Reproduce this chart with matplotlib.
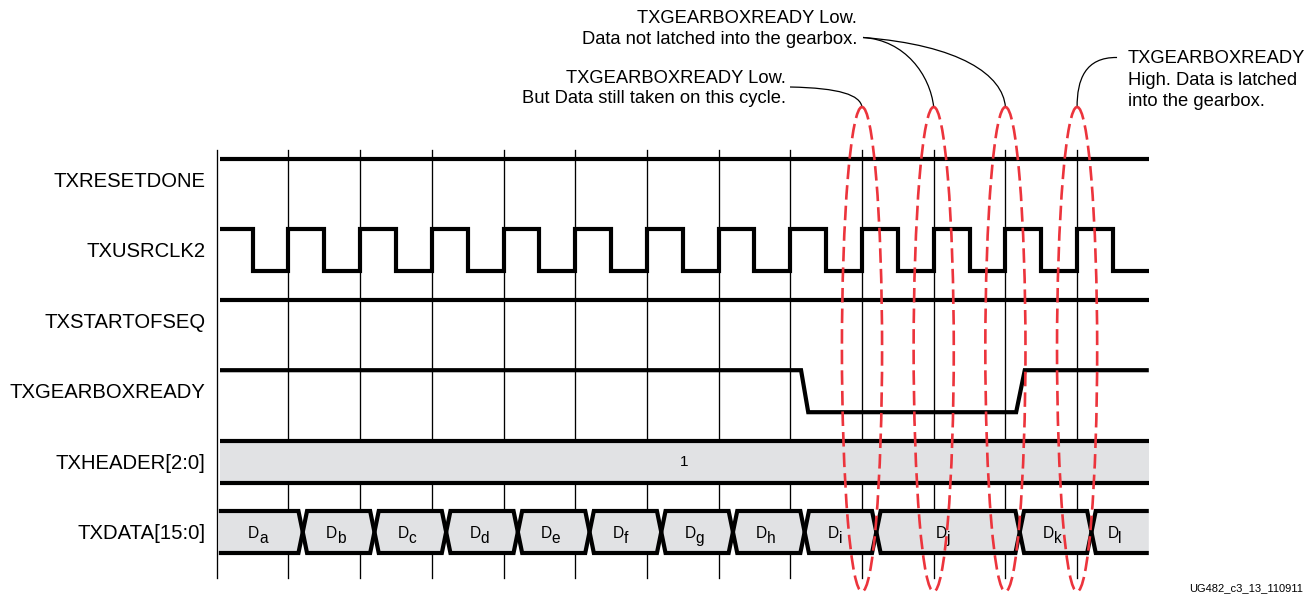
import matplotlib.pyplot as plt
from matplotlib.patches import Ellipse, Polygon, PathPatch
from matplotlib.path import Path

plt.rcParams['font.family'] = ['Liberation Sans', 'DejaVu Sans']

# --- signals ---
signal_names = ["TXRESETDONE", "TXUSRCLK2", "TXSTARTOFSEQ",
                "TXGEARBOXREADY", "TXHEADER[2:0]", "TXDATA[15:0]"]
row_y = [180.0, 250.4, 320.8, 391.2, 461.6, 532.0]
half = 21.0

grid_t = [0, 1, 2, 3, 4, 5, 6, 7, 8, 9, 10, 11, 12]
t_start = 0.046
t_end = 13.0

resetdone_level = 1
startofseq_level = 1
clk_edges = [0.5, 1.0, 1.5, 2.0, 2.5, 3.0, 3.5, 4.0, 4.5, 5.0, 5.5, 6.0, 6.5,
             7.0, 7.5, 8.0, 8.5, 9.0, 9.5, 10.0, 10.5, 11.0, 11.5, 12.0, 12.5]
gbr_t = [t_start, 8.15, 8.25, 11.15, 11.27, t_end]
gbr_v = [1, 1, 0, 0, 1, 1]
header_value = "1"
data_edges = [0.03, 1.2, 2.2, 3.2, 4.2, 5.2, 6.2, 7.2, 8.2, 9.2, 11.2, 12.2, t_end]
data_names = ["a", "b", "c", "d", "e", "f", "g", "h", "i", "j", "k", "l"]
marked_t = [9, 10, 11, 12]

# pixel -> time mapping of the drawing
X0, DX = 216.7, 71.7
W, H = 1315, 594
RED = '#ec343c'
GRAY = '#e1e2e4'
LW = 3.0


def level_y(row, v):
    return row_y[row] + half * (1 - 2 * v)


fig = plt.figure(figsize=(W / 100, H / 100), dpi=100)
ax = fig.add_axes([0, 0, 1, 1])
ax.set_xlim(-X0 / DX, (W - X0) / DX)
ax.set_ylim(H, 0)
ax.axis('off')

# clock edge grid
for t in grid_t:
    ax.plot([t, t], [150, 578], color='black', lw=0.95, zorder=1)

# row labels
for i, name in enumerate(signal_names):
    ax.text(-0.158, row_y[i] + 1.5, name, ha='right', va='center', fontsize=14.6)

# constant signals
for row, v in [(0, resetdone_level), (2, startofseq_level)]:
    ax.plot([t_start, t_end], [level_y(row, v)] * 2, color='black', lw=LW,
            solid_capstyle='butt', zorder=3)

# clock
cx, cy = [t_start], [1]
lev = 1
for e in clk_edges:
    cx += [e, e]
    cy += [lev, 1 - lev]
    lev = 1 - lev
cx.append(t_end)
cy.append(lev)
ax.plot(cx, [level_y(1, v) for v in cy], color='black', lw=LW,
        solid_capstyle='butt', solid_joinstyle='miter', zorder=3)

# gearbox ready
ax.plot(gbr_t, [level_y(3, v) for v in gbr_v], color='black', lw=LW,
        solid_capstyle='butt', solid_joinstyle='miter', zorder=3)

# header bus
top, bot = row_y[4] - half, row_y[4] + half
ax.fill_between([t_start, t_end], top, bot, color=GRAY, lw=0, zorder=2)
for yy in (top, bot):
    ax.plot([t_start, t_end], [yy, yy], color='black', lw=LW,
            solid_capstyle='butt', zorder=3)
ax.text((t_start + t_end) / 2, row_y[4], header_value, ha='center',
        va='center', fontsize=11)

# data bus
w = 0.06
top, mid, bot = row_y[5] - half, row_y[5], row_y[5] + half
n = len(data_names)
for i in range(n):
    s, e = data_edges[i], data_edges[i + 1]
    first, last = i == 0, i == n - 1
    sl = s if first else s + w
    er = e if last else e - w
    pts = [(sl, top), (er, top)]
    if not last:
        pts.append((e, mid))
    pts += [(er, bot), (sl, bot)]
    if not first:
        pts.append((s, mid))
    ax.add_patch(Polygon(pts, closed=True, fc=GRAY, ec='none', zorder=2))
    for yy in (top, bot):
        xs = ([] if first else [s]) + [sl, er] + ([] if last else [e])
        ys = ([] if first else [mid]) + [yy, yy] + ([] if last else [mid])
        ax.plot(xs, ys, color='black', lw=LW, solid_capstyle='butt',
                solid_joinstyle='miter', zorder=3)
    c = (s + e) / 2
    ax.text(c - 1.5 / DX, mid + 6.3, "D", ha='right', va='baseline',
            fontsize=11.2, zorder=4)
    ax.text(c - 1.9 / DX, mid + 11.3, data_names[i], ha='left', va='baseline',
            fontsize=11.2, zorder=4)

# red dashed marks
ell_cy, ell_h, ell_w = 349.3, 484.6, 0.56
for t in marked_t:
    ax.add_patch(Ellipse((t, ell_cy), ell_w, ell_h, fill=False, ec=RED,
                         lw=1.9, ls=(0, (5.5, 2.3)), zorder=5))
ell_top = ell_cy - ell_h / 2

# annotations
ann_fs = 13.2
ax.text(7.941, 82.7, "TXGEARBOXREADY Low.", ha='right', va='baseline', fontsize=ann_fs)
ax.text(7.941, 103.3, "But Data still taken on this cycle.", ha='right', va='baseline', fontsize=ann_fs)
ax.text(8.934, 22.7, "TXGEARBOXREADY Low.", ha='right', va='baseline', fontsize=ann_fs)
ax.text(8.934, 44.0, "Data not latched into the gearbox.", ha='right', va='baseline', fontsize=ann_fs)
ax.text(12.706, 62.7, "TXGEARBOXREADY", ha='left', va='baseline', fontsize=ann_fs)
ax.text(12.706, 84.7, "High. Data is latched", ha='left', va='baseline', fontsize=ann_fs)
ax.text(12.706, 106.3, "into the gearbox.", ha='left', va='baseline', fontsize=ann_fs)

leaders = [
    [(7.996, 87.0), (8.693, 88.0), (8.972, 95.0), (marked_t[0], ell_top)],
    [(9.014, 37.5), (9.60, 40.0), (9.95, 75.0), (marked_t[1], ell_top)],
    [(9.014, 37.5), (10.367, 45.0), (10.966, 75.0), (marked_t[2], ell_top)],
    [(12.557, 57.5), (12.110, 57.0), (11.999, 80.0), (marked_t[3], ell_top)],
]
for pts in leaders:
    path = Path(pts, [Path.MOVETO, Path.CURVE4, Path.CURVE4, Path.CURVE4])
    ax.add_patch(PathPatch(path, fill=False, ec='black', lw=0.9, zorder=4))

ax.text(15.15, 588, "UG482_c3_13_110911", ha='right', va='center', fontsize=8)

fig.savefig('out.png', dpi=100)
